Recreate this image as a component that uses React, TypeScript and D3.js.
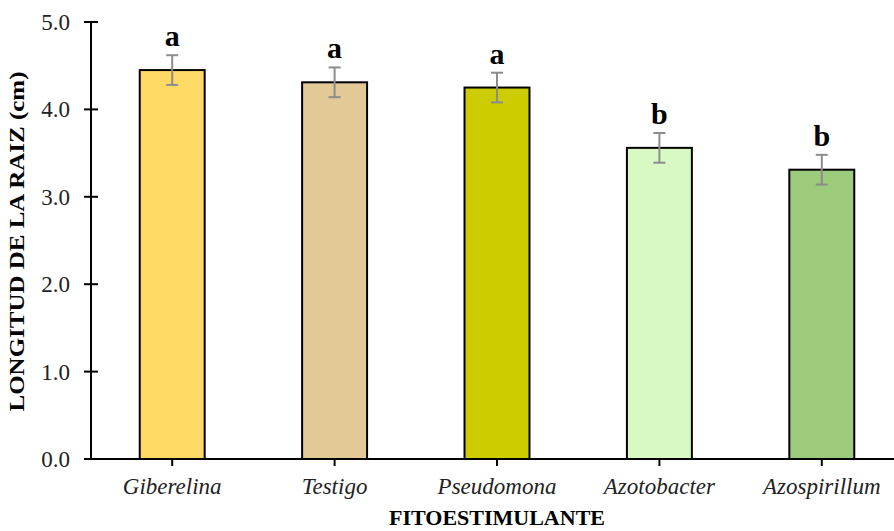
import { useEffect, useRef } from "react";
import * as d3 from "d3";

const CATEGORIES = ["Giberelina", "Testigo", "Pseudomona", "Azotobacter", "Azospirillum"];
const MEANS = [4.45, 4.31, 4.25, 3.56, 3.31];
const ERRORS = [0.17, 0.17, 0.17, 0.17, 0.17];
const GROUPS = ["a", "a", "a", "b", "b"];
const COLORS = ["#FFD966", "#E2C996", "#CCCC00", "#D9F9C4", "#9BCB7B"];
const Y_TICKS = [0, 1, 2, 3, 4, 5];

export default function App() {
  const svgRef = useRef<SVGSVGElement>(null);

  useEffect(() => {
    if (!svgRef.current) return;
    const width = 894;
    const height = 531;
    const margin = { top: 22, right: -9, bottom: 72, left: 91 };
    const innerWidth = width - margin.left - margin.right;
    const innerHeight = height - margin.top - margin.bottom;
    const font = "Times New Roman, Liberation Serif, Times, serif";

    d3.select(svgRef.current).selectAll("*").remove();
    const svg = d3
      .select(svgRef.current)
      .attr("width", width)
      .attr("height", height)
      .style("font-family", font);
    const g = svg.append("g").attr("transform", `translate(${margin.left},${margin.top})`);

    const x = d3
      .scaleBand<string>()
      .domain(CATEGORIES)
      .range([0, innerWidth])
      .paddingInner(0.6)
      .paddingOuter(0.3);
    const y = d3.scaleLinear().domain([0, 5]).range([innerHeight, 0]);

    // bars
    g.selectAll("rect.bar")
      .data(CATEGORIES)
      .enter()
      .append("rect")
      .attr("x", (d) => x(d)!)
      .attr("y", (_, i) => y(MEANS[i]))
      .attr("width", x.bandwidth())
      .attr("height", (_, i) => innerHeight - y(MEANS[i]))
      .attr("fill", (_, i) => COLORS[i])
      .attr("stroke", "#000")
      .attr("stroke-width", 2);

    // error bars + group letters
    CATEGORIES.forEach((c, i) => {
      const cx = x(c)! + x.bandwidth() / 2;
      const top = y(MEANS[i] + ERRORS[i]);
      const bot = y(MEANS[i] - ERRORS[i]);
      const eg = g.append("g").attr("stroke", "#8C8C8C").attr("stroke-width", 2);
      eg.append("line").attr("x1", cx).attr("x2", cx).attr("y1", top).attr("y2", bot);
      eg.append("line").attr("x1", cx - 6).attr("x2", cx + 6).attr("y1", top).attr("y2", top);
      eg.append("line").attr("x1", cx - 6).attr("x2", cx + 6).attr("y1", bot).attr("y2", bot);

      g.append("text")
        .attr("x", cx)
        .attr("y", top - 9)
        .attr("text-anchor", "middle")
        .style("font-weight", "bold")
        .style("font-size", "30px")
        .attr("fill", "#000")
        .text(GROUPS[i]);
    });

    // y axis
    g.append("line")
      .attr("x1", 0)
      .attr("x2", 0)
      .attr("y1", y(5))
      .attr("y2", innerHeight)
      .attr("stroke", "#000")
      .attr("stroke-width", 2);
    Y_TICKS.forEach((t) => {
      g.append("line")
        .attr("x1", -7)
        .attr("x2", 7)
        .attr("y1", y(t))
        .attr("y2", y(t))
        .attr("stroke", "#000")
        .attr("stroke-width", 2);
      g.append("text")
        .attr("x", -21)
        .attr("y", y(t) + 8)
        .attr("text-anchor", "end")
        .style("font-size", "23px")
        .attr("fill", "#222")
        .text(t.toFixed(1));
    });

    // x axis
    g.append("line")
      .attr("x1", -7)
      .attr("x2", innerWidth)
      .attr("y1", innerHeight)
      .attr("y2", innerHeight)
      .attr("stroke", "#000")
      .attr("stroke-width", 2);
    CATEGORIES.forEach((c) => {
      const cx = x(c)! + x.bandwidth() / 2;
      g.append("line")
        .attr("x1", cx)
        .attr("x2", cx)
        .attr("y1", innerHeight)
        .attr("y2", innerHeight + 7)
        .attr("stroke", "#000")
        .attr("stroke-width", 2);
      g.append("text")
        .attr("x", cx)
        .attr("y", innerHeight + 35)
        .attr("text-anchor", "middle")
        .style("font-style", "italic")
        .style("font-size", "23px")
        .attr("fill", "#222")
        .text(c);
    });

    // axis titles
    svg.append("text")
      .attr("x", margin.left + x("Pseudomona")! + x.bandwidth() / 2)
      .attr("y", 525)
      .attr("text-anchor", "middle")
      .style("font-weight", "bold")
      .style("font-size", "22px")
      .attr("fill", "#000")
      .text("FITOESTIMULANTE");

    svg.append("text")
      .attr("transform", `translate(24,${margin.top + innerHeight / 2 + 1}) rotate(-90)`)
      .attr("text-anchor", "middle")
      .attr("textLength", 340)
      .attr("lengthAdjust", "spacingAndGlyphs")
      .style("font-weight", "bold")
      .style("font-size", "20px")
      .attr("fill", "#000")
      .text("LONGITUD DE LA RAIZ (cm)");
  }, []);

  return (
    <div style={{ position: "fixed", left: 0, top: 0, width: 894, height: 531, background: "#fff", overflow: "hidden" }}>
      <svg ref={svgRef} style={{ display: "block" }} />
    </div>
  );
}
